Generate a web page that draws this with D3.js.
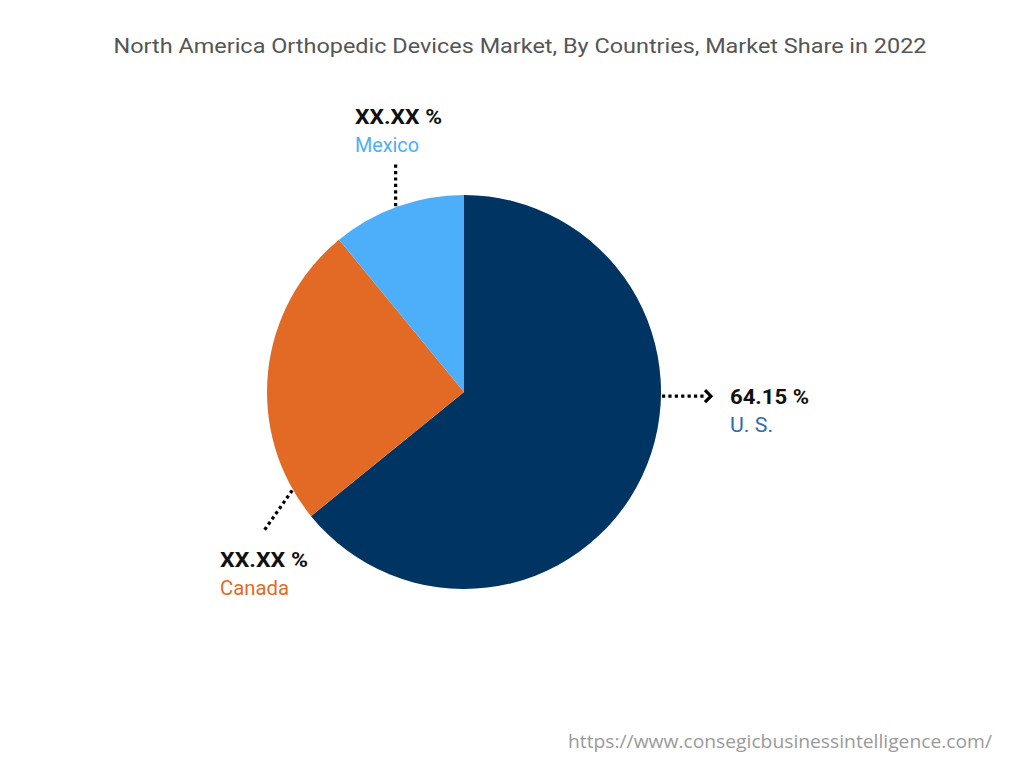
<!DOCTYPE html>
<html><head><meta charset="utf-8">
<script src="https://cdn.jsdelivr.net/npm/d3@7"></script>
<style>body{margin:0;background:#fff;} svg{display:block;}</style>
</head><body>
<svg id="c" width="1024" height="768"></svg>
<script>
const categories = ["U. S.", "Canada", "Mexico"];
const values = [64.15, 24.91, 10.94];
const valueLabels = ["64.15 %", "XX.XX %", "XX.XX %"];
const colors = ["#003462", "#E36A25", "#4DAEF9"];
const labelColors = ["#2F6CAE", "#E36A25", "#4DAEF9"];

const svg = d3.select("#c");
const cx = 464, cy = 392, R = 197;

svg.append("text").attr("x", 520).attr("y", 53).attr("text-anchor", "middle")
  .attr("font-family", "Roboto, 'Noto Sans', sans-serif").attr("font-size", 20.5)
  .attr("fill", "#555").attr("textLength", 813).attr("lengthAdjust", "spacingAndGlyphs")
  .text("North America Orthopedic Devices Market, By Countries, Market Share in 2022");

const pie = d3.pie().sort(null).value(d => d)(values);
const arc = d3.arc().innerRadius(0).outerRadius(R);
const g = svg.append("g").attr("transform", `translate(${cx},${cy})`);
g.selectAll("path").data(pie).join("path").attr("d", arc).attr("fill", (d, i) => colors[i]);

const leaders = [
  {ang: 91.2, dx: 1, dy: 0, len: 42, arrow: true, lx: 730, ly: 404, vw: 79, cw: 43},
  {ang: 240.2, dx: -0.573, dy: 0.819, len: 49, arrow: false, lx: 220, ly: 567, vw: 88, cw: 69},
  {ang: 339.8, dx: 0, dy: -1, len: 42, arrow: false, lx: 355, ly: 124, vw: 87, cw: 64}
];
const lg = svg.append("g");
leaders.forEach((L, i) => {
  const a = L.ang * Math.PI / 180;
  const x0 = cx + (R + 1) * Math.sin(a), y0 = cy - (R + 1) * Math.cos(a);
  const x1 = x0 + L.dx * L.len, y1 = y0 + L.dy * L.len;
  lg.append("line").attr("x1", x0).attr("y1", y0).attr("x2", x1).attr("y2", y1)
    .attr("stroke", "#000").attr("stroke-width", 3.2).attr("stroke-dasharray", "3.2,3.2");
  if (L.arrow) {
    lg.append("path").attr("d", `M${x1 + 1},${y1 - 6} L${x1 + 7},${y1} L${x1 + 1},${y1 + 6}`)
      .attr("fill", "none").attr("stroke", "#000").attr("stroke-width", 3.2);
  }
  lg.append("text").attr("x", L.lx).attr("y", L.ly)
    .attr("font-family", "Roboto, 'Noto Sans', sans-serif").attr("font-weight", "bold")
    .attr("font-size", 21).attr("fill", "#111")
    .attr("textLength", L.vw).attr("lengthAdjust", "spacingAndGlyphs").text(valueLabels[i]);
  lg.append("text").attr("x", L.lx).attr("y", L.ly + 28)
    .attr("font-family", "Roboto, 'Noto Sans', sans-serif")
    .attr("font-size", 19.5).attr("fill", labelColors[i])
    .attr("textLength", L.cw).attr("lengthAdjust", "spacingAndGlyphs").text(categories[i]);
});

svg.append("text").attr("x", 992).attr("y", 748).attr("text-anchor", "end")
  .attr("font-family", "'Open Sans', sans-serif").attr("font-size", 19).attr("fill", "#9a9a9a")
  .attr("textLength", 424).attr("lengthAdjust", "spacingAndGlyphs")
  .text("https://www.consegicbusinessintelligence.com/");
</script>
</body></html>
